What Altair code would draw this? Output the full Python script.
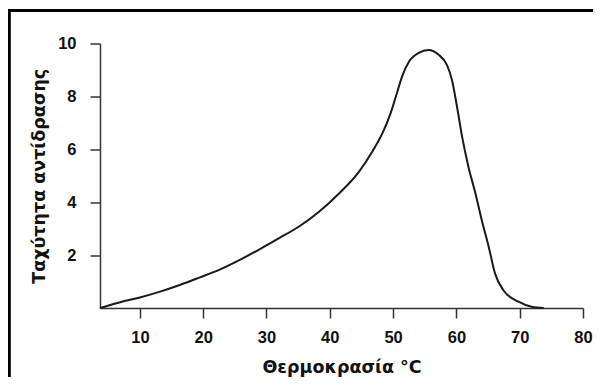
import altair as alt
import pandas as pd

# Curve (temperature °C, reaction rate)
temps = [3.7, 6.9, 10.0, 13.2, 16.3, 19.4, 22.6, 25.7, 28.9, 32.0, 35.2, 38.3, 41.5, 44.6,
         46.7, 48.3, 49.6, 50.6, 51.4, 52.5, 54.05, 55.6, 57.2, 58.5, 59.3, 60.1, 60.9,
         61.9, 63.0, 64.0, 65.1, 66.1, 67.4, 69.8, 71.9, 73.8]
rates = [0.0, 0.22, 0.40, 0.62, 0.87, 1.15, 1.45, 1.81, 2.22, 2.64, 3.09, 3.64, 4.34, 5.15,
         5.91, 6.60, 7.36, 8.12, 8.74, 9.31, 9.65, 9.75, 9.57, 9.19, 8.62, 7.61, 6.48,
         5.34, 4.34, 3.33, 2.32, 1.31, 0.68, 0.24, 0.05, 0.0]
x_ticks = [10, 20, 30, 40, 50, 60, 70, 80]
y_ticks = [2, 4, 6, 8, 10]
x_title = "Θερμοκρασία °C"
y_title = "Ταχύτητα αντίδρασης"

df = pd.DataFrame({"t": temps, "r": rates})
LABEL_FONT = "Liberation Sans"
TITLE_FONT = "DejaVu Sans"

line = alt.Chart(df).mark_line(color="#1a1a1a", strokeWidth=2, interpolate="monotone").encode(
    x=alt.X("t:Q", scale=alt.Scale(domain=[3.7, 80], nice=False, zero=False),
            axis=alt.Axis(values=x_ticks, title=x_title, grid=False, tickSize=10,
                          labelPadding=11, titlePadding=13, domainColor="#333", tickColor="#333",
                          domainWidth=1.5, tickWidth=1.5, labelFlush=False)),
    y=alt.Y("r:Q", scale=alt.Scale(domain=[0, 10], nice=False),
            axis=alt.Axis(values=y_ticks, title=y_title, grid=False, tickSize=10,
                          labelPadding=14, titlePadding=9, domainColor="#333", tickColor="#333",
                          domainWidth=1.5, tickWidth=1.5, labelFlush=False)),
)

frame_df = pd.DataFrame({"k": [0]})
top_rule = alt.Chart(frame_df).mark_rule(color="#000", strokeWidth=3).encode(
    x=alt.value(-92), x2=alt.value(500), y=alt.value(-33))
left_rule = alt.Chart(frame_df).mark_rule(color="#000", strokeWidth=3).encode(
    x=alt.value(-90.7), y=alt.value(-34.5), y2=alt.value(340))

chart = alt.layer(line, top_rule, left_rule).properties(
    width=483, height=264.5,
    autosize=alt.AutoSizeParams(type="none"),
    padding={"left": 92, "top": 35.5, "right": 10, "bottom": 69},
).configure_view(stroke=None).configure_axis(
    labelFont=LABEL_FONT, titleFont=TITLE_FONT, labelFontSize=16.5, titleFontSize=17.5,
    labelFontWeight="bold", titleFontWeight="bold", labelColor="#111", titleColor="#111",
)

chart.save("out.html", embed_options={"renderer": "svg", "actions": False})
